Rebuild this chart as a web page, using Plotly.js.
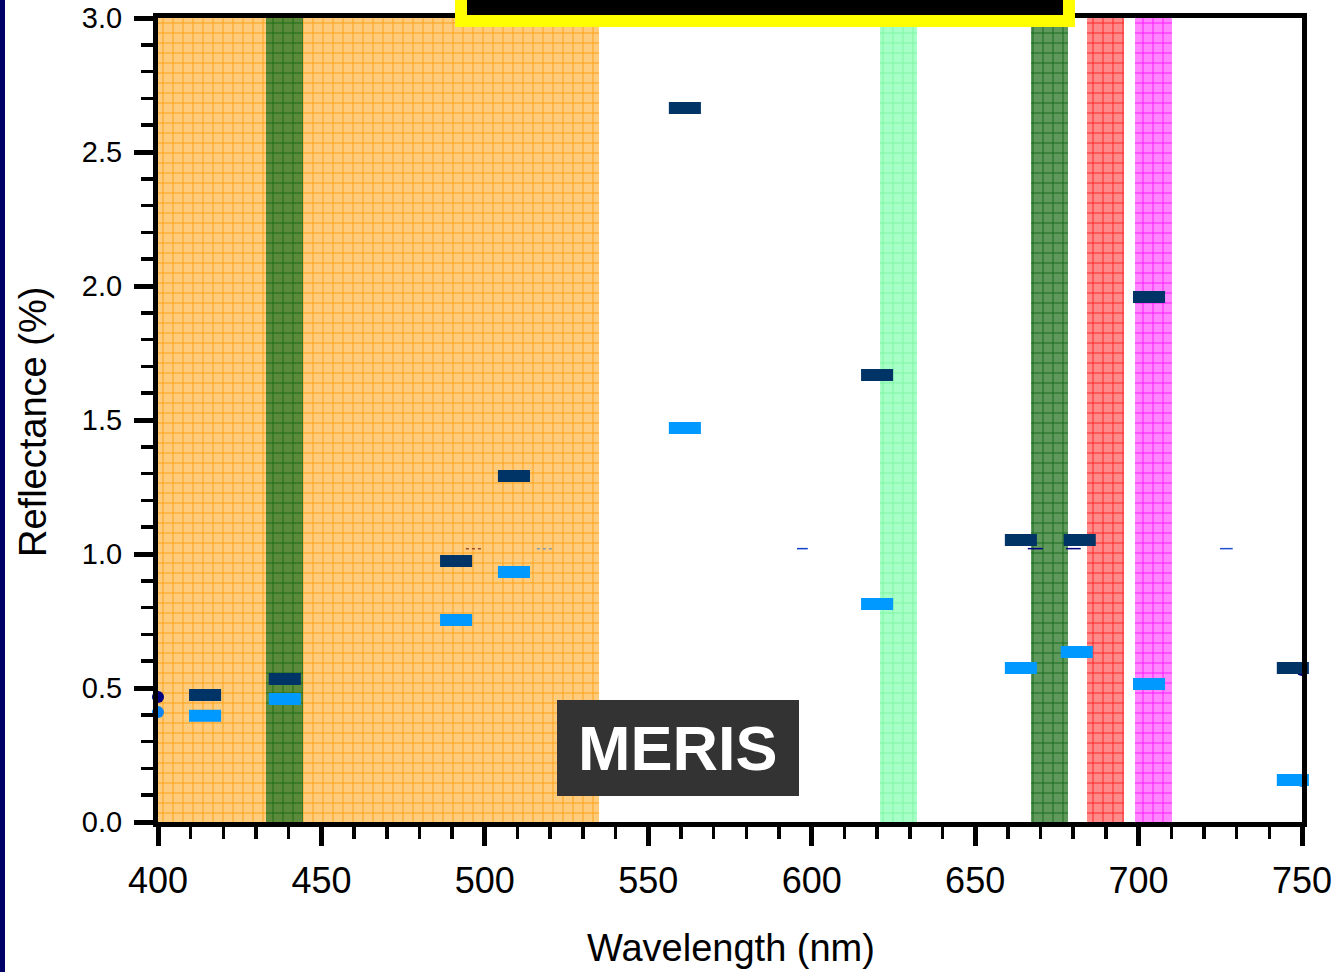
<!DOCTYPE html>
<html>
<head>
<meta charset="utf-8">
<script src="https://cdn.plot.ly/plotly-3.0.1.min.js"></script>
<style>html,body{margin:0;padding:0;background:#fff;}#chart{width:1342px;height:972px;}</style>
</head>
<body>
<div id="chart"></div>
<script>
// Band regions (nm)
const bandStart = [400, 433, 621, 667, 684.2, 698.9];
const bandEnd   = [535, 444.4, 632.3, 678.3, 695.5, 710.2];
const bandTop   = 3;
const bandBg    = ['#FFCB7C', '#5B8A3A', '#A6FFC6', '#5F9A5C', '#FF8A8A', '#FF86FF'];
const bandFg    = ['#FFA010', '#1A6A12', '#7CF5A2', '#17661A', '#FF2020', '#FF10FF'];

// Reflectance series
const darkX  = [414.4, 438.8, 491.2, 508.9, 561.2, 620.0, 664.0, 682.0, 703.2, 747.2];
const darkY  = [0.474, 0.534, 0.974, 1.291, 2.664, 1.668, 1.052, 1.052, 1.959, 0.575];
const lightX = [414.4, 438.8, 491.2, 508.9, 561.2, 620.0, 664.0, 681.1, 703.2, 747.2];
const lightY = [0.396, 0.459, 0.754, 0.933, 1.470, 0.813, 0.575, 0.634, 0.515, 0.157];

// Edge points
const edgeX      = [400, 750];
const edgeDarkY  = [0.466, 0.567];
const edgeLightY = [0.410, 0.153];

// Small segments near 1.02
const segY = 1.02;
const segs = [
  {x0: 494.2, x1: 498.8, c: '#A04A30', d: 'dot'},
  {x0: 515.9, x1: 521.1, c: '#8A9AAA', d: 'dot'},
  {x0: 595.5, x1: 598.8, c: '#1040D0', d: 'solid'},
  {x0: 666.1, x1: 670.7, c: '#000080', d: 'solid'},
  {x0: 677.8, x1: 682.3, c: '#000080', d: 'solid'},
  {x0: 724.9, x1: 728.8, c: '#2050D0', d: 'solid'}
];

const xTitle = 'Wavelength (nm)';
const yTitle = 'Reflectance (%)';

const traces = [];
for (let i = 0; i < bandStart.length; i++) {
  traces.push({
    type: 'bar',
    x: [(bandStart[i] + bandEnd[i]) / 2],
    y: [bandTop],
    width: [bandEnd[i] - bandStart[i]],
    base: 0,
    marker: {
      color: bandBg[i],
      line: {width: 0},
      pattern: {shape: '+', bgcolor: bandBg[i], fgcolor: bandFg[i], size: 10, solidity: 0.18, fillmode: 'replace'}
    },
    hoverinfo: 'skip',
    showlegend: false
  });
}
segs.forEach(s => traces.push({
  type: 'scatter', mode: 'lines', x: [s.x0, s.x1], y: [segY, segY],
  line: {color: s.c, width: 1.5, dash: s.d}, showlegend: false, hoverinfo: 'skip'
}));
traces.push({
  type: 'scatter', mode: 'markers', x: edgeX, y: edgeDarkY, cliponaxis: false,
  marker: {symbol: 'circle', size: 12, color: '#000080'}, showlegend: false
});
traces.push({
  type: 'scatter', mode: 'markers', x: edgeX, y: edgeLightY, cliponaxis: false,
  marker: {symbol: 'circle', size: 12, color: '#0A84F0'}, showlegend: false
});
traces.push({
  type: 'scatter', mode: 'markers', x: darkX, y: darkY, cliponaxis: false,
  marker: {symbol: 'line-ew', size: 22.9, line: {width: 12, color: '#003366'}}, showlegend: false
});
traces.push({
  type: 'scatter', mode: 'markers', x: lightX, y: lightY, cliponaxis: false,
  marker: {symbol: 'line-ew', size: 22.9, line: {width: 12, color: '#0099FF'}}, showlegend: false
});

const L = 158, R = 1302, T = 18, B = 822;
const px = v => (v - L) / (R - L);
const py = v => (B - v) / (B - T);

const font = 'Arial, "Liberation Sans", sans-serif';
const layout = {
  width: 1342, height: 972,
  margin: {l: L, r: 1342 - R, t: T, b: 972 - B, pad: 0},
  paper_bgcolor: '#ffffff', plot_bgcolor: '#ffffff',
  barmode: 'overlay', bargap: 0,
  showlegend: false,
  font: {family: font, color: '#000'},
  xaxis: {
    range: [400, 750], autorange: false, dtick: 50, tick0: 400,
    showgrid: false, zeroline: false, automargin: false,
    showline: true, linecolor: '#000', linewidth: 5, mirror: true,
    ticks: 'outside', ticklen: 19, tickwidth: 5, tickcolor: '#000',
    minor: {dtick: 10, ticks: 'outside', ticklen: 12, tickwidth: 3.5, tickcolor: '#000', showgrid: false},
    tickfont: {size: 36, family: font, color: '#000'},
    ticklabelstandoff: 4
  },
  yaxis: {
    range: [0, 3], autorange: false, dtick: 0.5, tick0: 0, tickformat: '.1f',
    showgrid: false, zeroline: false, automargin: false,
    showline: true, linecolor: '#000', linewidth: 5, mirror: true,
    ticks: 'outside', ticklen: 19, tickwidth: 5, tickcolor: '#000',
    minor: {dtick: 0.1, ticks: 'outside', ticklen: 12, tickwidth: 3.5, tickcolor: '#000', showgrid: false},
    tickfont: {size: 29, family: font, color: '#000'},
    ticklabelstandoff: 6
  },
  shapes: [
    {type: 'rect', xref: 'paper', yref: 'paper', x0: px(0), x1: px(5), y0: py(980), y1: py(-10),
     fillcolor: '#000068', line: {width: 0}, layer: 'above'},
    {type: 'rect', xref: 'paper', yref: 'paper', x0: px(461), x1: px(1069), y0: py(21), y1: py(-40),
     fillcolor: '#000000', line: {color: '#FFFF00', width: 12}, layer: 'above'},
    {type: 'rect', xref: 'paper', yref: 'paper', x0: px(557), x1: px(799), y0: py(796), y1: py(700),
     fillcolor: '#333333', line: {width: 0}, layer: 'above'}
  ],
  annotations: [
    {text: '<b>MERIS</b>', xref: 'paper', yref: 'paper', x: px(678), y: py(748),
     xanchor: 'center', yanchor: 'middle', showarrow: false,
     font: {size: 63, family: font, color: '#ffffff'}},
    {text: xTitle, xref: 'paper', yref: 'paper', x: px(730.5), y: py(948),
     xanchor: 'center', yanchor: 'middle', showarrow: false,
     font: {size: 38, family: font, color: '#000'}},
    {text: yTitle, xref: 'paper', yref: 'paper', x: px(33), y: py(422), textangle: -90,
     xanchor: 'center', yanchor: 'middle', showarrow: false,
     font: {size: 38, family: font, color: '#000'}}
  ]
};

Plotly.newPlot('chart', traces, layout, {displayModeBar: false, staticPlot: true});
</script>
</body>
</html>
